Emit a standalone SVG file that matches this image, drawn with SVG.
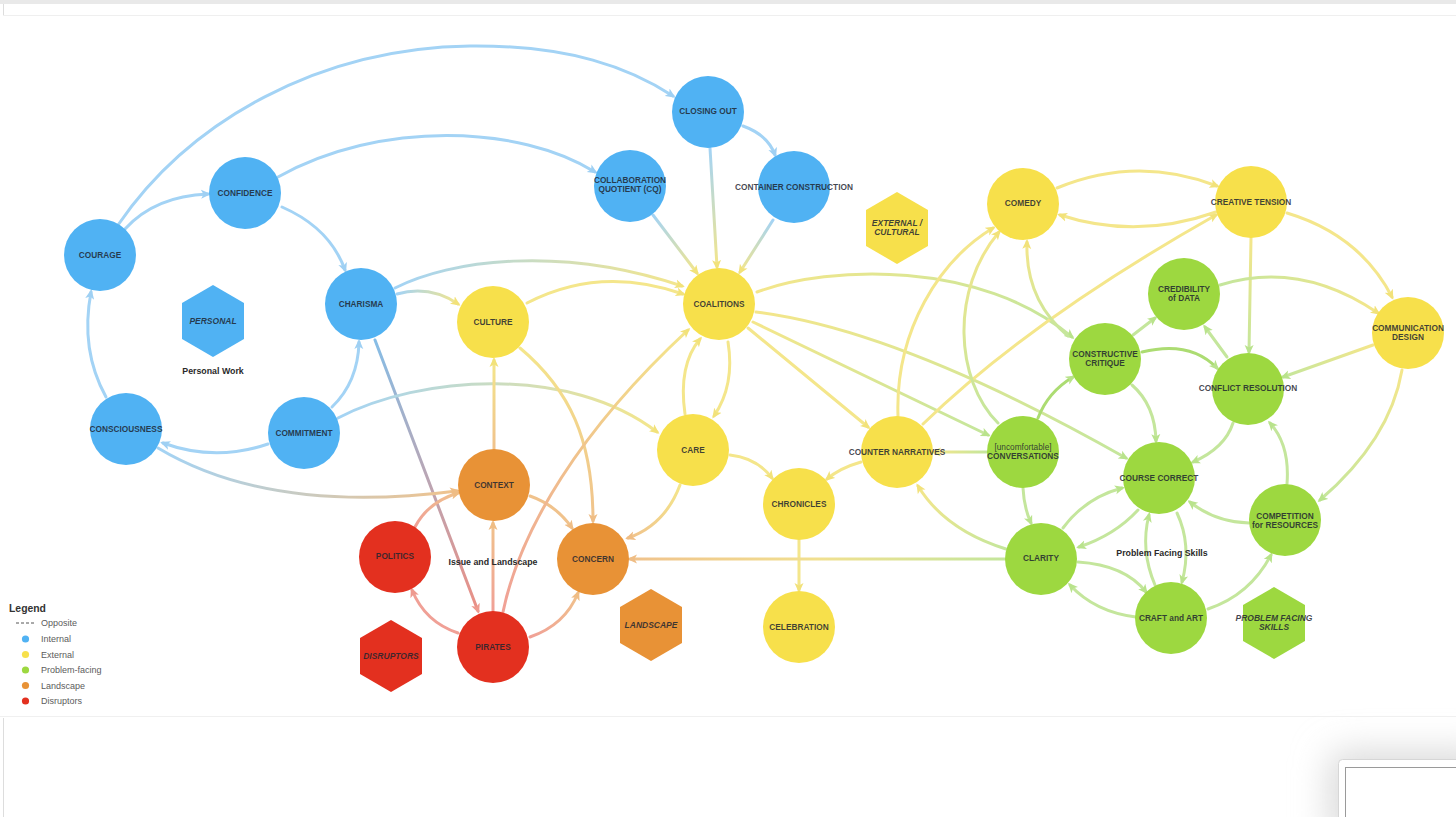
<svg xmlns="http://www.w3.org/2000/svg" width="1456" height="817" viewBox="0 0 1456 817">
<style>
.nb{fill:#50b2f3}.ny{fill:#f7e04b}.ng{fill:#9dd840}.no{fill:#e89236}.nr{fill:#e3301f}
.t{font-family:"Liberation Sans",Arial,sans-serif;font-weight:700;font-size:8.3px;fill:#1e2530;fill-opacity:.85;text-anchor:middle}
.tn{font-weight:400}
.hx{font-style:italic;font-size:8.5px}
.lab{font-family:"Liberation Sans",Arial,sans-serif;font-weight:700;font-size:8.8px;fill:#2a2a2a;text-anchor:middle}
.leg{font-family:"Liberation Sans",Arial,sans-serif;font-size:9px;fill:#5c5c5c}
.e{fill:none;stroke-width:3;stroke-linecap:round}
.eb{stroke:#a3d3f5}.ey{stroke:#f4e68b}.eg{stroke:#c4e69c}.eg2{stroke:#acdc72}.eo{stroke:#f0c28c}.er{stroke:#f0a096}
</style>
<defs>
<marker id="mB" viewBox="0 0 10 10" markerUnits="userSpaceOnUse" markerWidth="10" markerHeight="10" refX="7" refY="5" orient="auto"><path d="M0,0.5 L10,5 L0,9.5 L2.5,5 z" fill="#9fd0f3"/></marker>
<marker id="mY" viewBox="0 0 10 10" markerUnits="userSpaceOnUse" markerWidth="10" markerHeight="10" refX="7" refY="5" orient="auto"><path d="M0,0.5 L10,5 L0,9.5 L2.5,5 z" fill="#f2e27a"/></marker>
<marker id="mG" viewBox="0 0 10 10" markerUnits="userSpaceOnUse" markerWidth="10" markerHeight="10" refX="7" refY="5" orient="auto"><path d="M0,0.5 L10,5 L0,9.5 L2.5,5 z" fill="#b9e38c"/></marker>
<marker id="mO" viewBox="0 0 10 10" markerUnits="userSpaceOnUse" markerWidth="10" markerHeight="10" refX="7" refY="5" orient="auto"><path d="M0,0.5 L10,5 L0,9.5 L2.5,5 z" fill="#efbd85"/></marker>
<marker id="mR" viewBox="0 0 10 10" markerUnits="userSpaceOnUse" markerWidth="10" markerHeight="10" refX="7" refY="5" orient="auto"><path d="M0,0.5 L10,5 L0,9.5 L2.5,5 z" fill="#ee9a8f"/></marker>
<linearGradient id="g9" gradientUnits="userSpaceOnUse" x1="710" y1="148" x2="717" y2="267"><stop offset="0" stop-color="#a3d3f5"/><stop offset="1" stop-color="#f4e68b"/></linearGradient>
<linearGradient id="g10" gradientUnits="userSpaceOnUse" x1="653" y1="215" x2="697" y2="273"><stop offset="0" stop-color="#a3d3f5"/><stop offset="1" stop-color="#f4e68b"/></linearGradient>
<linearGradient id="g11" gradientUnits="userSpaceOnUse" x1="773" y1="220" x2="740" y2="272"><stop offset="0" stop-color="#a3d3f5"/><stop offset="1" stop-color="#f4e68b"/></linearGradient>
<linearGradient id="g12" gradientUnits="userSpaceOnUse" x1="395" y1="288" x2="682" y2="286"><stop offset="0" stop-color="#a3d3f5"/><stop offset="1" stop-color="#f4e68b"/></linearGradient>
<linearGradient id="g13" gradientUnits="userSpaceOnUse" x1="397" y1="294" x2="458" y2="304"><stop offset="0" stop-color="#a3d3f5"/><stop offset="1" stop-color="#f4e68b"/></linearGradient>
<linearGradient id="g14" gradientUnits="userSpaceOnUse" x1="375" y1="340" x2="478" y2="611"><stop offset="0" stop-color="#86bde6"/><stop offset="1" stop-color="#eb8f84"/></linearGradient>
<linearGradient id="g15" gradientUnits="userSpaceOnUse" x1="338" y1="418" x2="657" y2="432"><stop offset="0" stop-color="#a3d3f5"/><stop offset="1" stop-color="#f4e68b"/></linearGradient>
<linearGradient id="g16" gradientUnits="userSpaceOnUse" x1="158" y1="448" x2="457" y2="491"><stop offset="0" stop-color="#a3d3f5"/><stop offset="1" stop-color="#f0c28c"/></linearGradient>
<linearGradient id="g18" gradientUnits="userSpaceOnUse" x1="520" y1="348" x2="593" y2="521"><stop offset="0" stop-color="#f4e68b"/><stop offset="1" stop-color="#f0c28c"/></linearGradient>
<linearGradient id="g19" gradientUnits="userSpaceOnUse" x1="494" y1="449" x2="494" y2="360"><stop offset="0" stop-color="#f0c28c"/><stop offset="1" stop-color="#f4e68b"/></linearGradient>
<linearGradient id="g21" gradientUnits="userSpaceOnUse" x1="493" y1="611" x2="493" y2="523"><stop offset="0" stop-color="#f0a096"/><stop offset="1" stop-color="#f0c28c"/></linearGradient>
<linearGradient id="g23" gradientUnits="userSpaceOnUse" x1="415" y1="527" x2="458" y2="493"><stop offset="0" stop-color="#f0a096"/><stop offset="1" stop-color="#f0c28c"/></linearGradient>
<linearGradient id="g24" gradientUnits="userSpaceOnUse" x1="530" y1="637" x2="578" y2="593"><stop offset="0" stop-color="#f0a096"/><stop offset="1" stop-color="#f0c28c"/></linearGradient>
<linearGradient id="g25" gradientUnits="userSpaceOnUse" x1="503" y1="612" x2="688" y2="330"><stop offset="0" stop-color="#f0a096"/><stop offset=".5" stop-color="#f0c28c"/><stop offset="1" stop-color="#f4e68b"/></linearGradient>
<linearGradient id="g26" gradientUnits="userSpaceOnUse" x1="680" y1="485" x2="628" y2="538"><stop offset="0" stop-color="#f4e68b"/><stop offset="1" stop-color="#f0c28c"/></linearGradient>
<linearGradient id="g31" gradientUnits="userSpaceOnUse" x1="1005" y1="559" x2="630" y2="559"><stop offset="0" stop-color="#c4e69c"/><stop offset=".5" stop-color="#f1e090"/><stop offset="1" stop-color="#f0c28c"/></linearGradient>
<linearGradient id="g33" gradientUnits="userSpaceOnUse" x1="753" y1="322" x2="988" y2="435"><stop offset="0" stop-color="#f4e68b"/><stop offset="1" stop-color="#c4e69c"/></linearGradient>
<linearGradient id="g34" gradientUnits="userSpaceOnUse" x1="756" y1="312" x2="1126" y2="458"><stop offset="0" stop-color="#f4e68b"/><stop offset="1" stop-color="#c4e69c"/></linearGradient>
<linearGradient id="g35" gradientUnits="userSpaceOnUse" x1="757" y1="292" x2="1072" y2="337"><stop offset="0" stop-color="#f4e68b"/><stop offset="1" stop-color="#c4e69c"/></linearGradient>
<linearGradient id="g38" gradientUnits="userSpaceOnUse" x1="987" y1="452" x2="934" y2="452"><stop offset="0" stop-color="#c4e69c"/><stop offset="1" stop-color="#f4e68b"/></linearGradient>
<linearGradient id="g39" gradientUnits="userSpaceOnUse" x1="998" y1="423" x2="999" y2="232"><stop offset="0" stop-color="#c4e69c"/><stop offset="1" stop-color="#f4e68b"/></linearGradient>
<linearGradient id="g42" gradientUnits="userSpaceOnUse" x1="1068" y1="336" x2="1027" y2="242"><stop offset="0" stop-color="#c4e69c"/><stop offset="1" stop-color="#f4e68b"/></linearGradient>
<linearGradient id="g46" gradientUnits="userSpaceOnUse" x1="1251" y1="238" x2="1249" y2="352"><stop offset="0" stop-color="#f4e68b"/><stop offset="1" stop-color="#c4e69c"/></linearGradient>
<linearGradient id="g47" gradientUnits="userSpaceOnUse" x1="1220" y1="285" x2="1378" y2="313"><stop offset="0" stop-color="#c4e69c"/><stop offset="1" stop-color="#f4e68b"/></linearGradient>
<linearGradient id="g48" gradientUnits="userSpaceOnUse" x1="1373" y1="345" x2="1283" y2="377"><stop offset="0" stop-color="#f4e68b"/><stop offset="1" stop-color="#c4e69c"/></linearGradient>
<linearGradient id="g49" gradientUnits="userSpaceOnUse" x1="1402" y1="370" x2="1320" y2="500"><stop offset="0" stop-color="#f4e68b"/><stop offset="1" stop-color="#c4e69c"/></linearGradient>
<linearGradient id="g64" gradientUnits="userSpaceOnUse" x1="1006" y1="549" x2="918" y2="486"><stop offset="0" stop-color="#c4e69c"/><stop offset="1" stop-color="#f4e68b"/></linearGradient>
<filter id="sh" x="-50%" y="-50%" width="200%" height="200%"><feGaussianBlur stdDeviation="18"/></filter>
</defs>
<rect width="1456" height="817" fill="#ffffff"/>
<rect x="0" y="0" width="1456" height="4" fill="#e9e9e9"/>
<line x1="3.5" y1="4" x2="3.5" y2="15" stroke="#dddddd"/>
<line x1="3" y1="15.5" x2="1456" y2="15.5" stroke="#efefef"/>
<line x1="0" y1="716.5" x2="1456" y2="716.5" stroke="#f0f0f0"/>
<line x1="3.5" y1="718" x2="3.5" y2="817" stroke="#dddddd"/>
<rect x="1330" y="752" width="160" height="90" rx="10" fill="#d8d8d8" filter="url(#sh)"/>
<rect x="1338.5" y="759.5" width="130" height="70" rx="4" fill="#ffffff" stroke="#d6d6d6"/>
<rect x="1345.5" y="767.5" width="120" height="60" fill="#ffffff" stroke="#9a9a9a"/>
<g id="connectors">
<path class="e eb" marker-end="url(#mB)" d="M118,225 C190,120 320,48 470,46 C570,45 630,68 673,96"/>
<path class="e eb" marker-end="url(#mB)" d="M125,229 Q155,196 208,194"/>
<path class="e eb" marker-end="url(#mB)" d="M278,177 C380,120 520,125 595,172"/>
<path class="e eb" marker-end="url(#mB)" d="M282,207 Q330,228 345,270"/>
<path class="e eb" marker-end="url(#mB)" d="M106,397 Q80,350 91,292"/>
<path class="e eb" marker-end="url(#mB)" d="M332,407 Q358,382 359,342"/>
<path class="e eb" marker-end="url(#mB)" d="M268,444 Q215,462 163,443"/>
<path class="e eb" marker-end="url(#mB)" d="M743,126 Q768,135 775,155"/>
<path class="e" stroke="url(#g9)" marker-end="url(#mY)" d="M710,148 L717,267"/>
<path class="e" stroke="url(#g10)" marker-end="url(#mY)" d="M653,215 L697,273"/>
<path class="e" stroke="url(#g11)" marker-end="url(#mY)" d="M773,220 L740,272"/>
<path class="e" stroke="url(#g12)" marker-end="url(#mY)" d="M395,288 C450,260 560,245 682,286"/>
<path class="e" stroke="url(#g13)" marker-end="url(#mY)" d="M397,294 Q430,285 458,304"/>
<path class="e" stroke="url(#g14)" marker-end="url(#mR)" d="M375,340 L478,611"/>
<path class="e" stroke="url(#g15)" marker-end="url(#mY)" d="M338,418 C420,375 570,365 657,432"/>
<path class="e" stroke="url(#g16)" marker-end="url(#mO)" d="M158,448 Q270,515 457,491"/>
<path class="e ey" marker-end="url(#mY)" d="M527,303 Q600,265 683,294"/>
<path class="e" stroke="url(#g18)" marker-end="url(#mO)" d="M520,348 C570,390 593,440 593,521"/>
<path class="e" stroke="url(#g19)" marker-end="url(#mY)" d="M494,449 L494,360"/>
<path class="e eo" marker-end="url(#mO)" d="M530,496 Q556,505 572,528"/>
<path class="e" stroke="url(#g21)" marker-end="url(#mO)" d="M493,611 L493,523"/>
<path class="e er" marker-end="url(#mR)" d="M458,633 Q425,622 412,590"/>
<path class="e" stroke="url(#g23)" marker-end="url(#mO)" d="M415,527 Q428,502 458,493"/>
<path class="e" stroke="url(#g24)" marker-end="url(#mO)" d="M530,637 Q565,625 578,593"/>
<path class="e" stroke="url(#g25)" marker-end="url(#mY)" d="M503,612 C520,530 580,430 688,330"/>
<path class="e" stroke="url(#g26)" marker-end="url(#mO)" d="M680,485 Q665,525 628,538"/>
<path class="e ey" marker-end="url(#mY)" d="M685,414 Q678,365 700,339"/>
<path class="e ey" marker-end="url(#mY)" d="M728,342 Q735,385 714,416"/>
<path class="e ey" marker-end="url(#mY)" d="M730,455 Q757,458 772,478"/>
<path class="e ey" marker-end="url(#mY)" d="M861,462 Q840,468 827,479"/>
<path class="e ey" marker-end="url(#mY)" d="M799,540 L799,590"/>
<path class="e" stroke="url(#g31)" marker-end="url(#mO)" d="M1005,559 L630,559"/>
<path class="e ey" marker-end="url(#mY)" d="M748,328 L868,427"/>
<path class="e" stroke="url(#g33)" marker-end="url(#mG)" d="M753,322 L988,435"/>
<path class="e" stroke="url(#g34)" marker-end="url(#mG)" d="M756,312 Q900,330 1126,458"/>
<path class="e" stroke="url(#g35)" marker-end="url(#mG)" d="M757,292 C830,265 980,260 1072,337"/>
<path class="e ey" marker-end="url(#mY)" d="M898,416 C895,330 940,260 993,228"/>
<path class="e ey" marker-end="url(#mY)" d="M923,424 Q1030,320 1216,215"/>
<path class="e" stroke="url(#g38)" marker-end="url(#mY)" d="M987,452 L934,452"/>
<path class="e" stroke="url(#g39)" marker-end="url(#mY)" d="M998,423 C955,380 950,290 999,232"/>
<path class="e eg2" marker-end="url(#mG)" d="M1038,418 Q1048,392 1073,377"/>
<path class="e eg" marker-end="url(#mG)" d="M1023,488 Q1024,508 1031,523"/>
<path class="e" stroke="url(#g42)" marker-end="url(#mY)" d="M1068,336 Q1025,300 1027,242"/>
<path class="e ey" marker-end="url(#mY)" d="M1057,188 Q1137,155 1217,186"/>
<path class="e ey" marker-end="url(#mY)" d="M1216,212 Q1137,240 1060,215"/>
<path class="e ey" marker-end="url(#mY)" d="M1287,213 Q1360,235 1392,297"/>
<path class="e" stroke="url(#g46)" marker-end="url(#mG)" d="M1251,238 L1249,352"/>
<path class="e" stroke="url(#g47)" marker-end="url(#mY)" d="M1220,285 Q1300,260 1378,313"/>
<path class="e" stroke="url(#g48)" marker-end="url(#mG)" d="M1373,345 L1283,377"/>
<path class="e" stroke="url(#g49)" marker-end="url(#mG)" d="M1402,370 Q1390,440 1320,500"/>
<path class="e eg" marker-end="url(#mG)" d="M1133,335 L1155,318"/>
<path class="e eg" marker-end="url(#mG)" d="M1227,357 L1205,327"/>
<path class="e eg2" marker-end="url(#mG)" d="M1142,352 Q1190,340 1217,368"/>
<path class="e eg" marker-end="url(#mG)" d="M1132,385 Q1155,405 1156,441"/>
<path class="e eg" marker-end="url(#mG)" d="M1233,423 Q1225,448 1193,462"/>
<path class="e eg" marker-end="url(#mG)" d="M1287,484 Q1290,445 1270,423"/>
<path class="e eg" marker-end="url(#mG)" d="M1249,523 Q1215,522 1190,502"/>
<path class="e eg" marker-end="url(#mG)" d="M1063,528 Q1085,498 1122,488"/>
<path class="e eg" marker-end="url(#mG)" d="M1138,510 Q1115,535 1079,547"/>
<path class="e eg" marker-end="url(#mG)" d="M1078,562 Q1125,565 1146,592"/>
<path class="e eg" marker-end="url(#mG)" d="M1136,617 Q1095,612 1070,585"/>
<path class="e eg" marker-end="url(#mG)" d="M1155,585 Q1140,550 1149,515"/>
<path class="e eg" marker-end="url(#mG)" d="M1177,513 Q1192,545 1182,582"/>
<path class="e eg" marker-end="url(#mG)" d="M1208,609 Q1250,595 1271,555"/>
<path class="e" stroke="url(#g64)" marker-end="url(#mY)" d="M1006,549 Q945,530 918,486"/>
</g>
<g id="n-courage"><circle class="nb" cx="100" cy="255" r="36"/><text class="t" x="100" y="258">COURAGE</text></g>
<g id="n-confidence"><circle class="nb" cx="245" cy="193" r="36"/><text class="t" x="245" y="196">CONFIDENCE</text></g>
<g id="n-charisma"><circle class="nb" cx="361" cy="304" r="36"/><text class="t" x="361" y="307">CHARISMA</text></g>
<g id="n-consciousness"><circle class="nb" cx="126" cy="429" r="36"/><text class="t" x="126" y="432">CONSCIOUSNESS</text></g>
<g id="n-commitment"><circle class="nb" cx="304" cy="433" r="36"/><text class="t" x="304" y="436">COMMITMENT</text></g>
<g id="n-closing-out"><circle class="nb" cx="708" cy="112" r="36"/><text class="t" x="708" y="114">CLOSING OUT</text></g>
<g id="n-cq"><circle class="nb" cx="630" cy="186" r="36"/><text class="t" x="630" y="183">COLLABORATION</text><text class="t" x="630" y="192">QUOTIENT (CQ)</text></g>
<g id="n-container"><circle class="nb" cx="794" cy="187" r="36"/><text class="t" x="794" y="190">CONTAINER CONSTRUCTION</text></g>
<g id="n-personal"><polygon class="nb" points="213,285 244,303 244,339 213,357 182,339 182,303"/><text class="t hx" x="213" y="324">PERSONAL</text></g>
<g id="n-culture"><circle class="ny" cx="493" cy="322" r="36"/><text class="t" x="493" y="325">CULTURE</text></g>
<g id="n-coalitions"><circle class="ny" cx="719" cy="304" r="36"/><text class="t" x="719" y="307">COALITIONS</text></g>
<g id="n-care"><circle class="ny" cx="693" cy="450" r="36"/><text class="t" x="693" y="453">CARE</text></g>
<g id="n-chronicles"><circle class="ny" cx="799" cy="504" r="36"/><text class="t" x="799" y="507">CHRONICLES</text></g>
<g id="n-celebration"><circle class="ny" cx="799" cy="627" r="36"/><text class="t" x="799" y="630">CELEBRATION</text></g>
<g id="n-counter-narratives"><circle class="ny" cx="897" cy="452" r="36"/><text class="t" x="897" y="455">COUNTER NARRATIVES</text></g>
<g id="n-comedy"><circle class="ny" cx="1023" cy="204" r="36"/><text class="t" x="1023" y="206">COMEDY</text></g>
<g id="n-creative-tension"><circle class="ny" cx="1251" cy="202" r="36"/><text class="t" x="1251" y="205">CREATIVE TENSION</text></g>
<g id="n-communication-design"><circle class="ny" cx="1408" cy="333" r="36"/><text class="t" x="1408" y="331">COMMUNICATION</text><text class="t" x="1408" y="340">DESIGN</text></g>
<g id="n-external"><polygon class="ny" points="897,192 928,210 928,246 897,264 866,246 866,210"/><text class="t hx" x="897" y="226">EXTERNAL /</text><text class="t hx" x="897" y="235">CULTURAL</text></g>
<g id="n-credibility"><circle class="ng" cx="1184" cy="294" r="36"/><text class="t" x="1184" y="292">CREDIBILITY</text><text class="t" x="1184" y="301">of DATA</text></g>
<g id="n-critique"><circle class="ng" cx="1105" cy="359" r="36"/><text class="t" x="1105" y="357">CONSTRUCTIVE</text><text class="t" x="1105" y="366">CRITIQUE</text></g>
<g id="n-conflict"><circle class="ng" cx="1248" cy="389" r="36"/><text class="t" x="1248" y="391">CONFLICT RESOLUTION</text></g>
<g id="n-conversations"><circle class="ng" cx="1023" cy="452" r="36"/><text class="t tn" x="1023" y="450">[uncomfortable]</text><text class="t" x="1023" y="459">CONVERSATIONS</text></g>
<g id="n-course-correct"><circle class="ng" cx="1159" cy="478" r="36"/><text class="t" x="1159" y="481">COURSE CORRECT</text></g>
<g id="n-competition"><circle class="ng" cx="1285" cy="520" r="36"/><text class="t" x="1285" y="519">COMPETITION</text><text class="t" x="1285" y="528">for RESOURCES</text></g>
<g id="n-clarity"><circle class="ng" cx="1041" cy="559" r="36"/><text class="t" x="1041" y="561">CLARITY</text></g>
<g id="n-craft"><circle class="ng" cx="1171" cy="618" r="36"/><text class="t" x="1171" y="621">CRAFT and ART</text></g>
<g id="n-problem-facing"><polygon class="ng" points="1274,587 1305,605 1305,641 1274,659 1243,641 1243,605"/><text class="t hx" x="1274" y="621">PROBLEM FACING</text><text class="t hx" x="1274" y="630">SKILLS</text></g>
<g id="n-context"><circle class="no" cx="494" cy="485" r="36"/><text class="t" x="494" y="488">CONTEXT</text></g>
<g id="n-concern"><circle class="no" cx="593" cy="559" r="36"/><text class="t" x="593" y="562">CONCERN</text></g>
<g id="n-landscape"><polygon class="no" points="651,589 682,607 682,643 651,661 620,643 620,607"/><text class="t hx" x="651" y="628">LANDSCAPE</text></g>
<g id="n-politics"><circle class="nr" cx="395" cy="557" r="36"/><text class="t" x="395" y="559">POLITICS</text></g>
<g id="n-pirates"><circle class="nr" cx="493" cy="647" r="36"/><text class="t" x="493" y="650">PIRATES</text></g>
<g id="n-disruptors"><polygon class="nr" points="391,620 422,638 422,674 391,692 360,674 360,638"/><text class="t hx" x="391" y="659">DISRUPTORS</text></g>
<g id="labels">
<text class="lab" x="213" y="374">Personal Work</text>
<text class="lab" x="493" y="565">Issue and Landscape</text>
<text class="lab" x="1162" y="556">Problem Facing Skills</text>
</g>
<g id="legend">
<text x="9" y="612" font-family="Liberation Sans, Arial, sans-serif" font-weight="700" font-size="10.4" fill="#333">Legend</text>
<line x1="16" y1="623" x2="34" y2="623" stroke="#555" stroke-width="1" stroke-dasharray="3,2"/>
<text class="leg" x="41" y="626">Opposite</text>
<circle cx="25.5" cy="639" r="3.6" fill="#50b2f3"/><text class="leg" x="41" y="642">Internal</text>
<circle cx="25.5" cy="654.5" r="3.6" fill="#f7e04b"/><text class="leg" x="41" y="657.5">External</text>
<circle cx="25.5" cy="670" r="3.6" fill="#9dd840"/><text class="leg" x="41" y="673">Problem-facing</text>
<circle cx="25.5" cy="685.5" r="3.6" fill="#e89236"/><text class="leg" x="41" y="688.5">Landscape</text>
<circle cx="25.5" cy="701" r="3.6" fill="#e3301f"/><text class="leg" x="41" y="704">Disruptors</text>
</g>
</svg>
